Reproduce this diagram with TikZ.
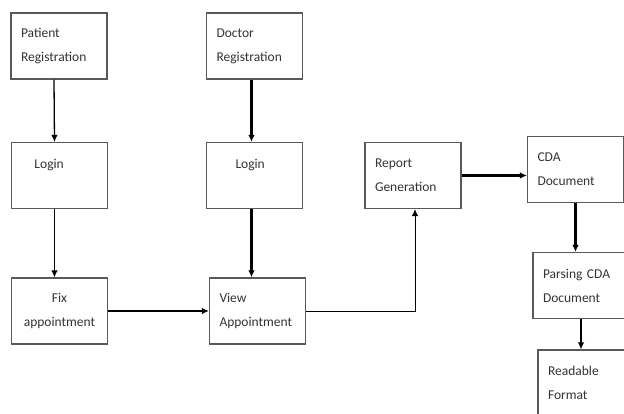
\documentclass[tikz,border=0pt]{standalone}
\usepackage{fontspec}
\setmainfont{Carlito}
\usetikzlibrary{arrows.meta}
\tikzset{
    box/.style={draw=black!65,line width=1.1pt,text=black!80,minimum width=96pt,minimum height=66pt,
        text width=76pt,inner xsep=10pt,inner ysep=0pt,align=left,
        font=\fontsize{13.5}{24}\selectfont},
    arr/.style={draw=black,line width=1.3pt,-{Latex[length=7pt,width=6.5pt]}},
    thk/.style={arr,line width=2.2pt}
}
\begin{document}
\begin{tikzpicture}[x=1pt,y=-1pt]
    \useasboundingbox (0,0) rectangle (624,414);

    \node[box] (pr) at (59,46) {Patient\\Registration};
    \node[box] (l1) at (59.5,175.5) {\hspace*{13pt}Login\\~};
    \node[box,align=center] (fa) at (59.5,311) {Fix\\appointment};

    \node[box] (dr) at (254.5,46) {Doctor\\Registration};
    \node[box] (l2) at (254.5,175.5) {\hspace*{19pt}Login\\~};
    \node[box] (va) at (257.5,311) {View\\Appointment};

    \node[box] (rg) at (413,175.5) {Report\\Generation};
    \node[box] (cda) at (575.5,169.5) {CDA\\Document};
    \node[box] (pcd) at (581,285.5) {Parsing CDA\\Document};
    \node[box] (rf) at (586,383) {Readable\\Format};

    \draw[arr] ([xshift=-5pt]pr.south) -- ([xshift=-5pt]l1.north);
    \draw[arr] ([xshift=-5pt]l1.south) -- ([xshift=-5pt]fa.north);
    \draw[thk] ([xshift=-3pt]dr.south) -- ([xshift=-3pt]l2.north);
    \draw[thk] ([xshift=-3pt]l2.south) -- ([xshift=-6pt]va.north);
    \draw[thk] (fa.east) -- (va.west);
    \draw[arr,line width=1pt] (va.east) -| ([xshift=2pt]rg.south);
    \draw[thk] (rg.east) -- (rg.east -| cda.west);
    \draw[thk] (cda.south) -- (cda.south |- pcd.north);
    \draw[thk] (pcd.south) -- (pcd.south |- rf.north);

\end{tikzpicture}
\end{document}
